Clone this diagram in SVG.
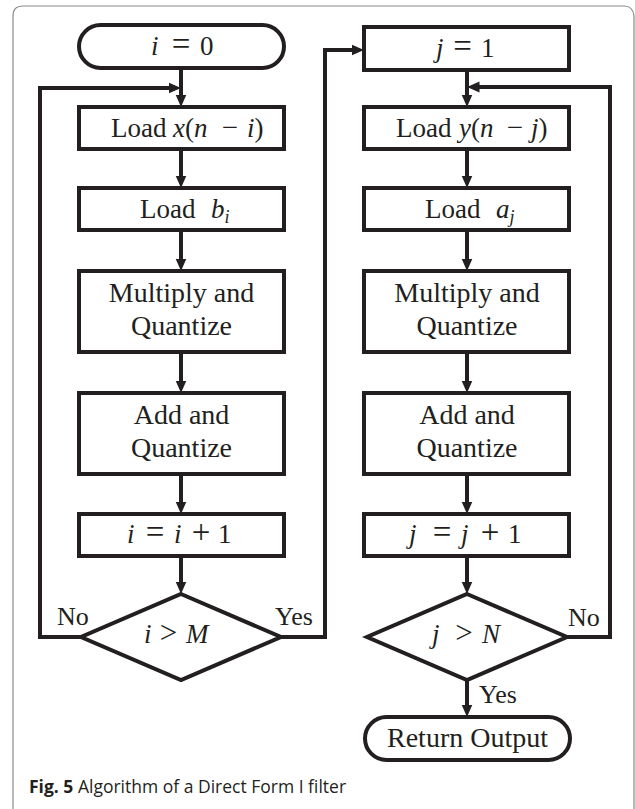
<svg xmlns="http://www.w3.org/2000/svg" width="635" height="809" viewBox="0 0 635 809">
<style>
.box{fill:#fff;stroke:#231f20;stroke-width:4}
.c{fill:none;stroke:#231f20;stroke-width:4}
.t{font-family:"Liberation Serif","Times New Roman",serif;font-size:28px;fill:#231f20;text-anchor:middle}
.s{font-family:"Liberation Serif","Times New Roman",serif;font-size:27px;fill:#231f20}
.lb{font-family:"Liberation Serif","Times New Roman",serif;font-size:26px;fill:#231f20}
.m{font-style:italic}
.op{font-size:33px}
.rel{font-size:31px}
.sub{font-style:italic;font-size:18px}
.cap{font-family:"Open Sans","Noto Sans",sans-serif;font-size:17.5px;fill:#231f20}
</style>
<defs>
<marker id="ah" markerUnits="userSpaceOnUse" markerWidth="13" markerHeight="12" refX="0.5" refY="6" orient="auto">
<path d="M0,0.5 L12.5,6 L0,11.5 z" fill="#231f20"/>
</marker>
</defs>
<rect width="635" height="809" fill="#fff"/>
<path d="M13,809 V16 Q13,6 23,6 H624 Q633,6 634,16 V809" fill="none" stroke="#8a8a8a" stroke-width="1.2"/>

<g id="connectors">
<path class="c" d="M181,68 V95" marker-end="url(#ah)"/>
<path class="c" d="M181,149 V176" marker-end="url(#ah)"/>
<path class="c" d="M181,230 V259" marker-end="url(#ah)"/>
<path class="c" d="M181,352 V381" marker-end="url(#ah)"/>
<path class="c" d="M181,474 V502" marker-end="url(#ah)"/>
<path class="c" d="M181,556 V582" marker-end="url(#ah)"/>
<path class="c" d="M81,637 H40 V88 H169" marker-end="url(#ah)"/>
<path class="c" d="M281,637 H325 V50 H352" marker-end="url(#ah)"/>
<path class="c" d="M467,70 V95" marker-end="url(#ah)"/>
<path class="c" d="M467,149 V176" marker-end="url(#ah)"/>
<path class="c" d="M467,230 V259" marker-end="url(#ah)"/>
<path class="c" d="M467,352 V381" marker-end="url(#ah)"/>
<path class="c" d="M467,474 V502" marker-end="url(#ah)"/>
<path class="c" d="M467,556 V582" marker-end="url(#ah)"/>
<path class="c" d="M467,680 V705" marker-end="url(#ah)"/>
<path class="c" d="M567,637 H610 V87 H479" marker-end="url(#ah)"/>
<text class="lb" x="57" y="625">No</text>
<text class="lb" x="275" y="625">Yes</text>
<text class="lb" x="568" y="626">No</text>
<text class="lb" x="479" y="703">Yes</text>
</g>

<g id="start">
<rect class="box" x="79" y="25" width="205" height="43" rx="21.5"/>
<text class="s" y="55"><tspan class="m" x="151">i</tspan><tspan class="op" x="171.7">=</tspan><tspan x="200">0</tspan></text>
</g>
<g id="loadx">
<rect class="box" x="79" y="107" width="205" height="42"/>
<text class="s" y="137"><tspan x="111">Load</tspan><tspan class="m" x="173">x</tspan>(<tspan class="m">n</tspan><tspan font-size="29" x="221.8">−</tspan><tspan class="m" x="247">i</tspan>)</text>
</g>
<g id="loadb">
<rect class="box" x="79" y="188" width="205" height="42"/>
<text class="s" y="218"><tspan x="140">Load</tspan><tspan class="m" x="211">b</tspan><tspan class="sub" dy="5">i</tspan></text>
</g>
<g id="mulL">
<rect class="box" x="79" y="271" width="205" height="81"/>
<text class="t" x="181.5" y="302">Multiply and</text>
<text class="t" x="181.5" y="335">Quantize</text>
</g>
<g id="addL">
<rect class="box" x="79" y="393" width="205" height="81"/>
<text class="t" x="181.5" y="424">Add and</text>
<text class="t" x="181.5" y="457">Quantize</text>
</g>
<g id="incI">
<rect class="box" x="79" y="514" width="205" height="42"/>
<text class="s" y="543"><tspan class="m" x="127">i</tspan><tspan class="op" x="145.7">=</tspan><tspan class="m" x="174">i</tspan><tspan class="op" x="191.7">+</tspan><tspan x="218">1</tspan></text>
</g>
<g id="decI">
<polygon class="box" points="181,594 281,637 181,680 81,637"/>
<text class="s" y="643"><tspan class="m" x="144">i</tspan><tspan class="rel" x="159.8">&gt;</tspan><tspan class="m" x="186">M</tspan></text>
</g>

<g id="startJ">
<rect class="box" x="364" y="27" width="205" height="43"/>
<text class="s" y="57"><tspan class="m" x="436">j</tspan><tspan class="op" x="453.2">=</tspan><tspan x="481">1</tspan></text>
</g>
<g id="loady">
<rect class="box" x="364" y="107" width="205" height="42"/>
<text class="s" y="137"><tspan x="396">Load</tspan><tspan class="m" x="459">y</tspan>(<tspan class="m">n</tspan><tspan font-size="29" x="506.8">−</tspan><tspan class="m" x="531">j</tspan>)</text>
</g>
<g id="loada">
<rect class="box" x="364" y="188" width="205" height="42"/>
<text class="s" y="218"><tspan x="425">Load</tspan><tspan class="m" x="496">a</tspan><tspan class="sub" dy="5">j</tspan></text>
</g>
<g id="mulR">
<rect class="box" x="364" y="271" width="205" height="81"/>
<text class="t" x="467" y="302">Multiply and</text>
<text class="t" x="467" y="335">Quantize</text>
</g>
<g id="addR">
<rect class="box" x="364" y="393" width="205" height="81"/>
<text class="t" x="467" y="424">Add and</text>
<text class="t" x="467" y="457">Quantize</text>
</g>
<g id="incJ">
<rect class="box" x="364" y="514" width="205" height="42"/>
<text class="s" y="543"><tspan class="m" x="409">j</tspan><tspan class="op" x="432.7">=</tspan><tspan class="m" x="461">j</tspan><tspan class="op" x="480.7">+</tspan><tspan x="508">1</tspan></text>
</g>
<g id="decJ">
<polygon class="box" points="467,594 567,637 467,680 367,637"/>
<text class="s" y="643"><tspan class="m" x="432">j</tspan><tspan class="rel" x="455.3">&gt;</tspan><tspan class="m" x="482">N</tspan></text>
</g>
<g id="end">
<rect class="box" x="365" y="717" width="205" height="43" rx="21.5"/>
<text class="t" x="467.5" y="747">Return Output</text>
</g>

<text class="cap" x="29" y="793"><tspan font-weight="bold">Fig. 5</tspan> Algorithm of a Direct Form I filter</text>
</svg>
